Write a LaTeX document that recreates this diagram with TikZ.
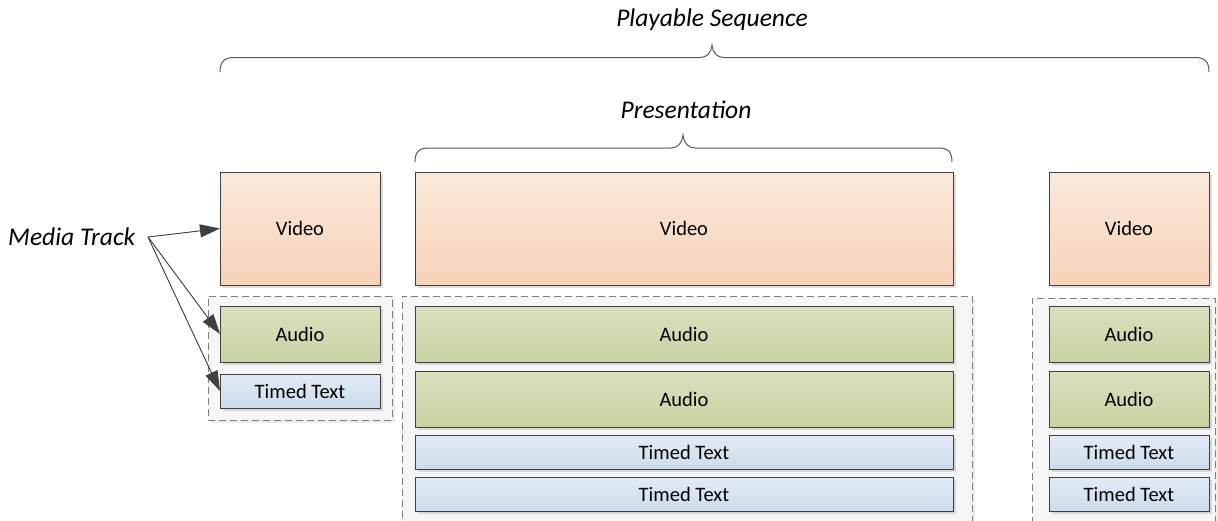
\documentclass[tikz,border=0pt]{standalone}
\usepackage{fontspec}
\setmainfont{Carlito}
\usetikzlibrary{shadows,arrows.meta}
\definecolor{edge}{HTML}{404040}
\definecolor{vidtop}{HTML}{FBE8DB}
\definecolor{vidbot}{HTML}{F6D3B9}
\definecolor{audtop}{HTML}{D8E0BE}
\definecolor{audbot}{HTML}{C8D4A3}
\definecolor{tttop}{HTML}{E2EBF5}
\definecolor{ttbot}{HTML}{CCDCEC}
\definecolor{grpfill}{HTML}{F6F6F6}
\definecolor{grpedge}{HTML}{7F7F7F}
\definecolor{bracecol}{HTML}{595959}
\begin{document}
\begin{tikzpicture}[x=1pt,y=-1pt,
  track/.style={draw=edge, line width=0.9pt, rectangle, inner sep=0pt, outer sep=0pt,
    anchor=north west, font=\fontsize{20.5}{24}\selectfont, text=black,
    drop shadow={shadow xshift=2.5pt, shadow yshift=-2.5pt, fill=black!30, opacity=0.45}},
  video/.style={track, top color=vidtop, bottom color=vidbot},
  audio/.style={track, top color=audtop, bottom color=audbot},
  ttext/.style={track, top color=tttop, bottom color=ttbot},
  group/.style={draw=grpedge, dash pattern=on 7pt off 4pt, line width=0.9pt, fill=grpfill,
    rectangle, inner sep=0pt, outer sep=0pt, anchor=north west,
    drop shadow={shadow xshift=2.5pt, shadow yshift=-2.5pt, fill=black!20, opacity=0.35}},
  lbl/.style={font=\fontsize{25.5}{30}\selectfont\itshape, text=black, inner sep=0pt},
  brace/.style={draw=bracecol, line width=1pt},
  pointer/.style={draw=edge, line width=0.9pt, -{Triangle[length=20pt,width=13pt]}, fill=edge}
]
\useasboundingbox (0,0) rectangle (1218,520);
\clip (0,0) rectangle (1218,520);

% groups (dashed)
\node[group, minimum width=184pt, minimum height=124pt] (g1) at (208,296) {};
\node[group, minimum width=570pt, minimum height=240pt] (g2) at (402,296) {};
\node[group, minimum width=183pt, minimum height=240pt] (g3) at (1032,298) {};

% left column
\node[video, minimum width=160pt, minimum height=113pt] (v1) at (220,172) {Video};
\node[audio, minimum width=160pt, minimum height=56pt] (a1) at (220,306) {Audio};
\node[ttext, minimum width=160pt, minimum height=34pt] (t1) at (220,374) {Timed Text};

% middle column
\node[video, minimum width=538pt, minimum height=113pt] (v2) at (415,172) {Video};
\node[audio, minimum width=538pt, minimum height=56pt] (a2) at (415,306) {Audio};
\node[audio, minimum width=538pt, minimum height=56pt] (a3) at (415,371) {Audio};
\node[ttext, minimum width=538pt, minimum height=34pt] (t2) at (415,435) {Timed Text};
\node[ttext, minimum width=538pt, minimum height=34pt] (t3) at (415,477) {Timed Text};

% right column
\node[video, minimum width=160pt, minimum height=113pt] (v3) at (1049,172) {Video};
\node[audio, minimum width=160pt, minimum height=56pt] (a4) at (1049,306) {Audio};
\node[audio, minimum width=160pt, minimum height=56pt] (a5) at (1049,371) {Audio};
\node[ttext, minimum width=160pt, minimum height=34pt] (t4) at (1049,435) {Timed Text};
\node[ttext, minimum width=160pt, minimum height=34pt] (t5) at (1049,477) {Timed Text};

% labels
\node[lbl] (ps) at (712,20) {Playable Sequence};
\node[lbl] (pr) at (686,110) {Presentation};
\node[lbl, anchor=west] (mt) at (8,237) {Media Track};
\coordinate (mtp) at (148,237);

% braces
\draw[brace] (220,72) .. controls (220,62) and (224,57.5) .. (234,57.5) -- (700,57.5)
  .. controls (707,57.5) and (711,53) .. (712,45)
  .. controls (713,53) and (717,57.5) .. (724,57.5) -- (1195,57.5)
  .. controls (1205,57.5) and (1209,62) .. (1209,72);
\draw[brace] (415,162) .. controls (415,152) and (419,148) .. (429,148) -- (671,148)
  .. controls (678,148) and (682,143) .. (683,135)
  .. controls (684,143) and (688,148) .. (695,148) -- (938,148)
  .. controls (948,148) and (952,152) .. (952,162);

% pointers
\draw[pointer] (mtp) -- (v1.west);
\draw[pointer] (mtp) -- (a1.west);
\draw[pointer] (mtp) -- (t1.west);
\end{tikzpicture}
\end{document}
